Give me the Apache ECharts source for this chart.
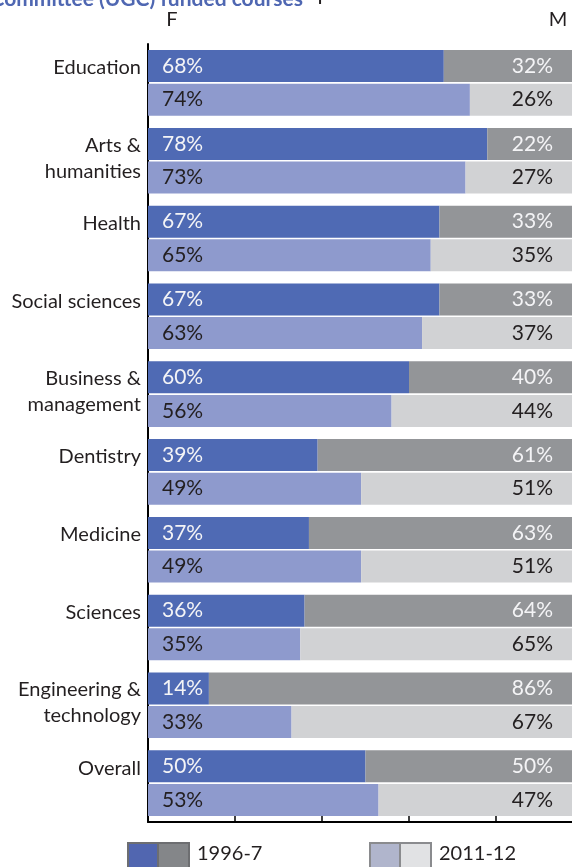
<!DOCTYPE html>
<html>

<head>
    <meta charset="utf-8">
    <style>
        body {
            margin: 0;
            background-color: #fff;
            overflow: hidden;
        }

        /* the plot runs a little past the right edge of the window, as in the original */
        #main {
            width: 583px;
            height: 867px;
        }
    </style>
    <script src="https://cdn.jsdelivr.net/npm/echarts@6/dist/echarts.min.js"></script>
</head>

<body>
    <div id="main"></div>
    <script type="text/javascript">
        var categories = ['Education', 'Arts &\nhumanities', 'Health', 'Social sciences', 'Business &\nmanagement',
            'Dentistry', 'Medicine', 'Sciences', 'Engineering &\ntechnology', 'Overall'];
        var female1996 = [68, 78, 67, 67, 60, 39, 37, 36, 14, 50];
        var male1996 = [32, 22, 33, 33, 40, 61, 63, 64, 86, 50];
        var female2011 = [74, 73, 65, 63, 56, 49, 49, 35, 33, 53];
        var male2011 = [26, 27, 35, 37, 44, 51, 51, 65, 67, 47];

        var font = 'Lato, "Open Sans", sans-serif';
        var dark = '#231f20';

        var myChart = echarts.init(document.getElementById('main'));

        function barLabel(pos, dist, color) {
            return {
                show: true,
                position: pos,
                distance: dist,
                color: color,
                fontFamily: font,
                fontSize: 21,
                formatter: '{c}%'
            };
        }

        var option = {
            animation: false,
            grid: {
                left: 148,
                right: 0,
                top: 44,
                bottom: 45
            },
            xAxis: {
                type: 'value',
                min: 0,
                max: 100,
                interval: 20,
                axisLine: { show: true, lineStyle: { color: '#000', width: 2 } },
                axisTick: { show: true, inside: true, length: 10, lineStyle: { color: '#000', width: 1.5 } },
                axisLabel: { show: false },
                splitLine: { show: false }
            },
            yAxis: {
                type: 'category',
                inverse: true,
                data: categories,
                axisLine: { show: true, lineStyle: { color: '#000', width: 2 } },
                axisTick: { show: false },
                axisLabel: {
                    color: dark,
                    fontFamily: font,
                    fontSize: 20,
                    lineHeight: 26,
                    margin: 7,
                    formatter: function (v) {
                        // single-line labels sit level with the top bar, two-line ones a bit above centre
                        return v.indexOf('\n') < 0 ? v + '\n{g| }' : v + '\n{s| }';
                    },
                    rich: {
                        g: { lineHeight: 30, fontSize: 1 },
                        s: { lineHeight: 5, fontSize: 1 }
                    }
                }
            },
            graphic: [
                {
                    type: 'text', x: 303, y: -1,
                    style: {
                        text: 'University Grants Committee (UGC) funded courses',
                        fill: '#4f67b2', font: 'bold 21px ' + font,
                        textAlign: 'right', textVerticalAlign: 'middle'
                    }
                },
                {
                    type: 'text', x: 320, y: 0,
                    style: { text: '+', fill: dark, font: 'bold 20px ' + font, textAlign: 'center', textVerticalAlign: 'middle' }
                },
                {
                    type: 'text', x: 172, y: 20,
                    style: { text: 'F', fill: dark, font: '20px ' + font, textAlign: 'center', textVerticalAlign: 'middle' }
                },
                {
                    type: 'text', x: 558, y: 20,
                    style: { text: 'M', fill: dark, font: '20px ' + font, textAlign: 'center', textVerticalAlign: 'middle' }
                },
                // legend
                { type: 'rect', shape: { x: 128, y: 843, width: 30, height: 32 }, style: { fill: '#5166b0', stroke: '#6d6e71', lineWidth: 2 } },
                { type: 'rect', shape: { x: 158, y: 843, width: 31, height: 32 }, style: { fill: '#848689', stroke: '#6d6e71', lineWidth: 2 } },
                {
                    type: 'text', x: 197, y: 854,
                    style: { text: '1996-7', fill: dark, font: '20px ' + font, textVerticalAlign: 'middle' }
                },
                { type: 'rect', shape: { x: 370, y: 843, width: 30, height: 32 }, style: { fill: '#b0b5cc', stroke: '#8a8b8e', lineWidth: 2 } },
                { type: 'rect', shape: { x: 400, y: 843, width: 31, height: 32 }, style: { fill: '#e1e2e4', stroke: '#8a8b8e', lineWidth: 2 } },
                {
                    type: 'text', x: 439, y: 854,
                    style: { text: '2011-12', fill: dark, font: '20px ' + font, textVerticalAlign: 'middle' }
                }
            ],
            series: [
                {
                    name: '1996-7 F', type: 'bar', stack: 'y1996', data: female1996,
                    barWidth: 32, barGap: '5%',
                    itemStyle: { color: '#4f6ab4' },
                    label: barLabel('insideLeft', 14, '#f4f4f6')
                },
                {
                    name: '1996-7 M', type: 'bar', stack: 'y1996', data: male1996,
                    barWidth: 32, barGap: '5%',
                    itemStyle: { color: '#939598' },
                    label: barLabel('insideRight', 30, '#f4f4f6')
                },
                {
                    name: '2011-12 F', type: 'bar', stack: 'y2011', data: female2011,
                    barWidth: 32, barGap: '5%',
                    itemStyle: { color: '#8e9acd' },
                    label: barLabel('insideLeft', 14, dark)
                },
                {
                    name: '2011-12 M', type: 'bar', stack: 'y2011', data: male2011,
                    barWidth: 32, barGap: '5%',
                    itemStyle: { color: '#d1d2d4' },
                    label: barLabel('insideRight', 30, dark)
                }
            ]
        };

        myChart.setOption(option);
    </script>
</body>

</html>
